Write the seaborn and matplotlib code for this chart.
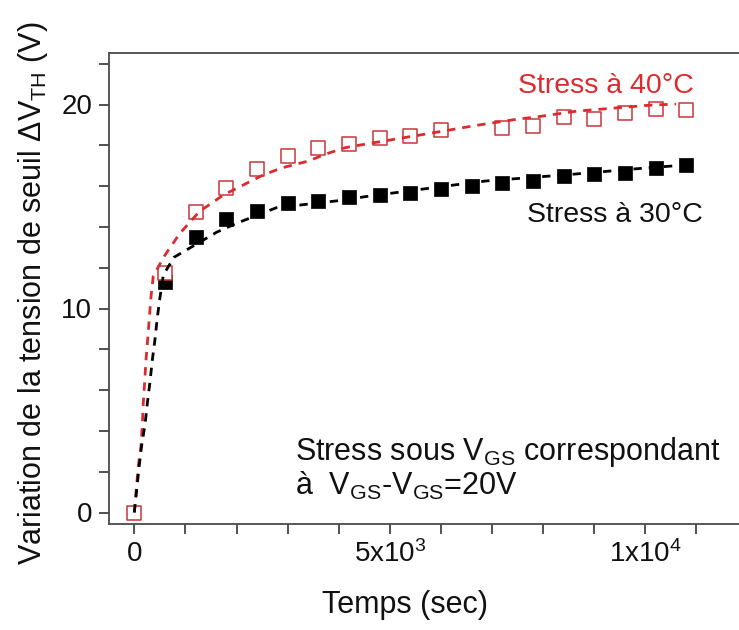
import numpy as np
import pandas as pd
import matplotlib
matplotlib.use("Agg")
import matplotlib.pyplot as plt
import seaborn as sns

# ---- data ----
time_s = [0, 600, 1200, 1800, 2400, 3000, 3600, 4200, 4800, 5400, 6000,
          6600, 7200, 7800, 8400, 9000, 9600, 10200, 10800]
dvth_40C = [0.0, 11.72, 14.73, 15.92, 16.85, 17.50, 17.86, 18.07, 18.37, 18.48,
            18.74, np.nan, 18.86, 18.97, 19.38, 19.30, 19.59, 19.80, 19.72]
dvth_30C = [np.nan, 11.31, 13.52, 14.37, 14.78, 15.16, 15.27, 15.48, 15.55, 15.68,
            15.84, 16.00, 16.13, 16.26, 16.49, 16.57, 16.66, 16.90, 17.01]

# dashed fit curves
fit40_t = [0, 78, 131, 157, 176, 203, 229, 262, 294, 327, 372, 601, 894, 1272,
           1742, 2200, 2543, 2898, 3409, 3724, 4118, 4669, 5772, 6677, 7465,
           7898, 8646, 10102, 10600]
fit40_v = [0.0, 2.28, 3.26, 4.29, 5.38, 6.41, 7.48, 8.49, 9.55, 10.58, 11.6,
           12.62, 13.69, 14.75, 15.56, 16.14, 16.57, 16.9, 17.23, 17.55, 17.88,
           18.12, 18.58, 18.97, 19.27, 19.4, 19.67, 19.97, 20.02]
fit30_t = [0, 98, 145, 209, 255, 307, 353, 405, 450, 503, 568, 777, 1612, 2004,
           2780, 4118, 4512, 6087, 6874, 8528, 9827, 10496, 10600]
fit30_v = [0.0, 2.33, 3.31, 4.29, 5.35, 6.41, 7.48, 8.49, 9.55, 10.55, 11.64,
           12.51, 13.74, 14.18, 14.94, 15.32, 15.48, 16.0, 16.25, 16.57, 16.85,
           16.98, 17.0]

x_ticks = [0, 5000, 10000]
x_ticklabels = ["0", r"5x10$^{3}$", r"1x10$^{4}$"]
y_ticks = [0, 10, 20]

RED = "#dc2a2e"
RED_MK = "#c8363b"
TXT = "#111111"

sns.set_style("ticks")
plt.rcParams["font.family"] = ["Liberation Sans", "DejaVu Sans"]
plt.rcParams["mathtext.fontset"] = "custom"
plt.rcParams["mathtext.rm"] = "Liberation Sans"
plt.rcParams["mathtext.it"] = "Liberation Sans:italic"
plt.rcParams["mathtext.bf"] = "Liberation Sans:bold"

W, H = 739, 630
fig = plt.figure(figsize=(W / 100, H / 100), dpi=100)
L, R, B, T = 109, 739, 524, 53
ax = fig.add_axes([L / W, (H - B) / H, (R - L) / W, (B - T) / H])

fit40 = pd.DataFrame({"t": fit40_t, "v": fit40_v})
fit30 = pd.DataFrame({"t": fit30_t, "v": fit30_v})
pts = pd.DataFrame({"t": time_s, "v40": dvth_40C, "v30": dvth_30C})

sns.scatterplot(data=pts, x="t", y="v30", marker="s", s=95, color="black",
                edgecolor="black", linewidth=0.5, ax=ax, zorder=2, legend=False)
sns.scatterplot(data=pts, x="t", y="v40", marker="s", s=100, color="white",
                edgecolor=RED_MK, linewidth=1.1, ax=ax, zorder=3, legend=False)
sns.lineplot(data=fit40, x="t", y="v", color=RED, lw=2.0, ax=ax, zorder=4,
             sort=False, estimator=None)
sns.lineplot(data=fit30, x="t", y="v", color="black", lw=2.0, ax=ax, zorder=4,
             sort=False, estimator=None)
for ln in ax.lines:
    ln.set_linestyle((0, (3.0, 2.5)))

ax.set_xlim((L - 134.3) / 0.0511, (R - 134.3) / 0.0511)
ax.set_ylim((512.5 - B) / 20.4, (512.5 - T) / 20.4)

ax.set_xticks(x_ticks)
ax.set_xticklabels(x_ticklabels)
ax.set_xticks(np.arange(1000, 11001, 1000), minor=True)
ax.set_yticks(y_ticks)
ax.set_yticks(np.arange(2, 23, 2), minor=True)

for s in ["left", "bottom", "top"]:
    ax.spines[s].set_color("#4a4a4a")
    ax.spines[s].set_linewidth(1.3)
ax.spines["right"].set_visible(False)
ax.tick_params(which="both", direction="out", length=7, width=1.2,
               color="#333333", labelsize=20, labelcolor=TXT, pad=5)
ax.tick_params(axis="x", which="both", top=False)

ax.set_xlabel("Temps (sec)", fontsize=22, color=TXT)
ax.set_ylabel(r"Variation de la tension de seuil $\Delta$V$_{\mathregular{TH}}$ (V)",
              fontsize=22, color=TXT)
ax.xaxis.set_label_coords((405 - L) / (R - L), (B - 590) / (B - T))
ax.yaxis.set_label_coords((50 - L) / (R - L), 0.49)

ax.text(7516, 20.56, "Stress à 40°C", color=RED, fontsize=20.5,
        ha="left", va="baseline")
ax.text(7677, 14.24, "Stress à 30°C", color=TXT, fontsize=20.5,
        ha="left", va="baseline")
ax.text(3145, 2.57, r"Stress sous V$_{\mathregular{GS}}$ correspondant",
        color=TXT, fontsize=22, ha="left", va="baseline")
ax.text(3145, 0.85, r"à  V$_{\mathregular{GS}}$-V$_{\mathregular{GS}}$=20V",
        color=TXT, fontsize=22, ha="left", va="baseline")

fig.savefig("out.png", dpi=100)
